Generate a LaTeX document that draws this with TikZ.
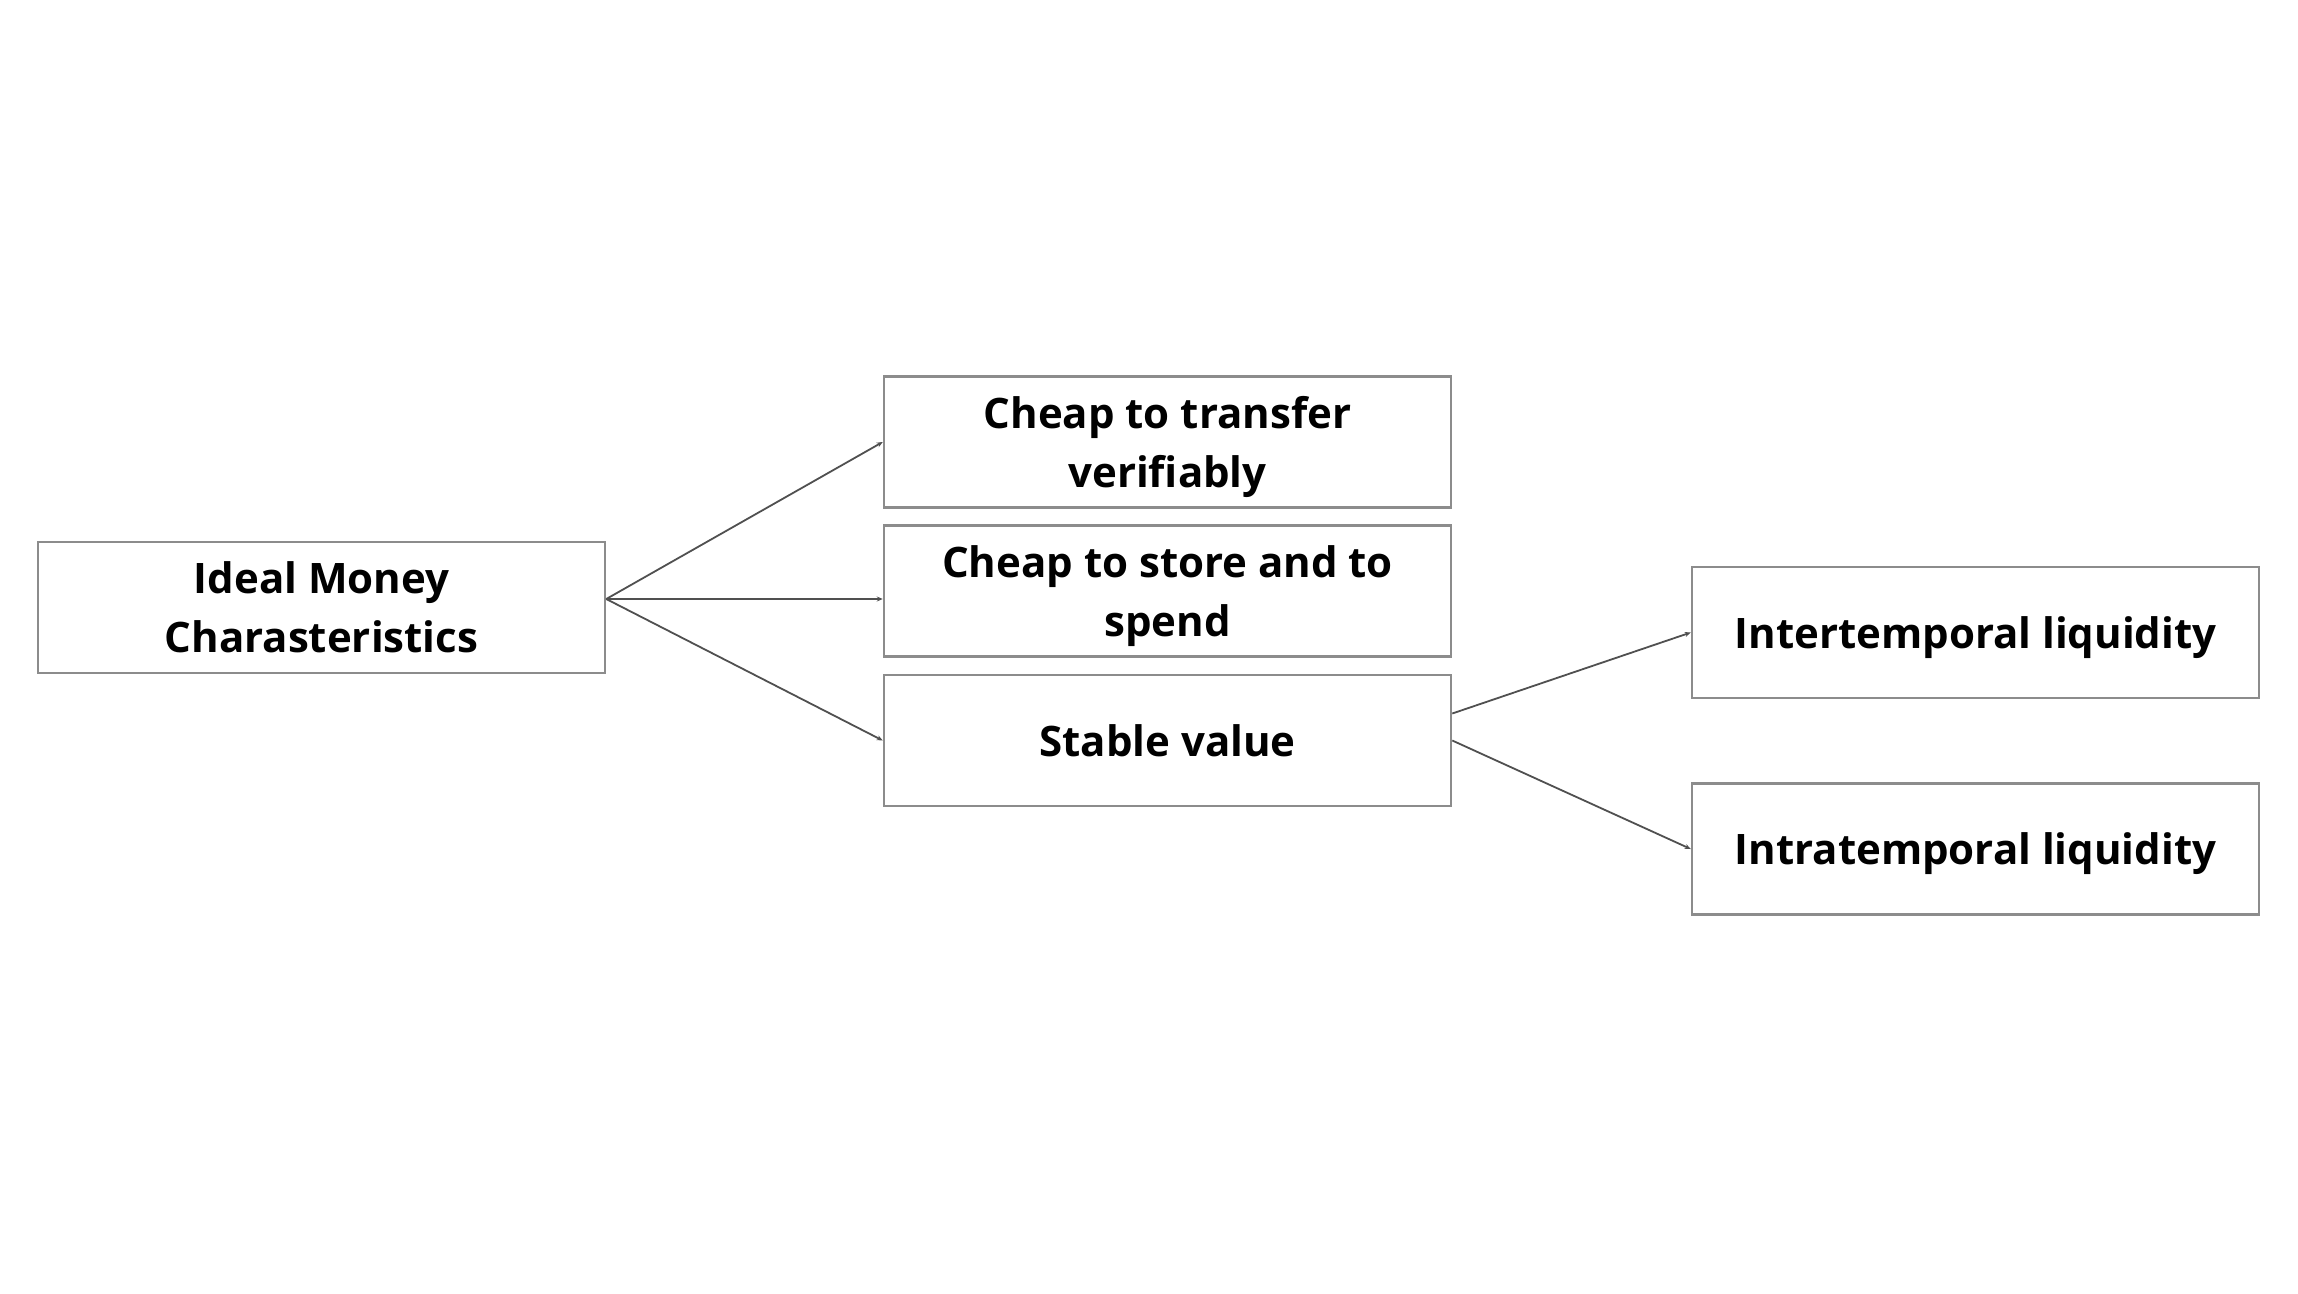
\documentclass[tikz,border=0pt]{standalone}
\usepackage{fontspec}
\setmainfont{Open Sans}
\usetikzlibrary{arrows.meta}
\definecolor{boxline}{HTML}{8C8C8C}
\definecolor{conline}{HTML}{505050}
\tikzset{
  card/.style={draw=boxline, line width=2.5pt, fill=white, minimum width=567pt, minimum height=131pt,
    align=center, inner sep=0pt, text depth=0pt, font=\fontsize{42}{59}\selectfont\bfseries, text=black},
  link/.style={draw=conline, line width=1.8pt, -{Stealth[length=6pt,width=5pt]}}
}
\begin{document}
\begin{tikzpicture}[x=1pt,y=-1pt]
\useasboundingbox (0,0) rectangle (2298,1293);
\node[card] (ideal) at (321.5,607.5) {Ideal Money\\Charasteristics};
\node[card] (transfer) at (1167.5,442) {Cheap to transfer\\verifiably};
\node[card] (store) at (1167.5,591) {Cheap to store and to\\spend};
\node[card] (stable) at (1167.5,740.5) {Stable value};
\node[card] (inter) at (1975.5,632.5) {Intertemporal liquidity};
\node[card] (intra) at (1975.5,849) {Intratemporal liquidity};
\coordinate (hub) at ([yshift=8.5pt]ideal.east);
\draw[link] (hub) -- (transfer.west);
\draw[link] (hub) -- ([yshift=-8pt]store.west);
\draw[link] (hub) -- (stable.west);
\draw[link] ([yshift=27pt]stable.east) -- (inter.west);
\draw[link] (stable.east) -- (intra.west);
\end{tikzpicture}
\end{document}
